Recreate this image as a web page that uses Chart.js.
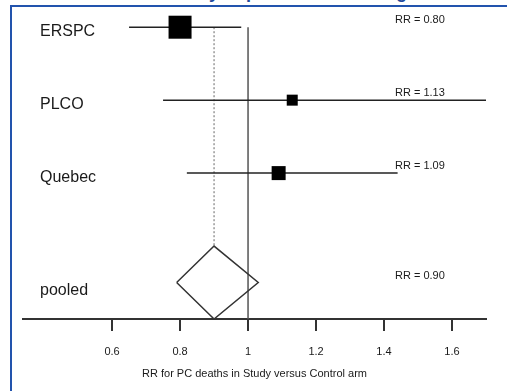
<!DOCTYPE html>
<html>
<head>
<meta charset="utf-8">
<script src="https://cdn.jsdelivr.net/npm/chart.js@4/dist/chart.umd.min.js"></script>
<style>
  html, body { margin: 0; padding: 0; background: #fff; }
  #wrap { position: relative; width: 507px; height: 391px; overflow: hidden; }
  #title { position: absolute; left: 150px; top: -17px; font: bold 18px "Liberation Sans", Arial, sans-serif;
           line-height: 18px; color: #1f4a9c; white-space: nowrap; }
  #frameTop { position: absolute; left: 10px; top: 5px; width: 497px; height: 2px; background: #2253ad; }
  #frameLeft { position: absolute; left: 10px; top: 5px; width: 2px; height: 386px; background: #2253ad; }
  canvas { position: absolute; left: 0; top: 0; }
</style>
</head>
<body>
<div id="wrap">
  <div id="title">Efficacy of prostate screening</div>
  <canvas id="forest" width="507" height="391"></canvas>
  <div id="frameTop"></div>
  <div id="frameLeft"></div>
</div>
<script>
// Study data (relative risk of PC death, with 95% CI)
var studies = ['ERSPC', 'PLCO', 'Quebec'];
var rr = [0.80, 1.13, 1.09];
var ciLow = [0.65, 0.75, 0.82];
var ciHigh = [0.98, 1.70, 1.44];

// Pooled estimate
var pooledLabel = 'pooled';
var pooledRR = 0.90;
var pooledLow = 0.79;
var pooledHigh = 1.03;

var xTicks = [0.6, 0.8, 1, 1.2, 1.4, 1.6];
var xTitle = 'RR for PC deaths in Study versus Control arm';

// box side in px, roughly by study weight (style only)
var boxSide = [23, 11, 14];

var ink = '#1a1a1a';
var font = '"Liberation Sans", Arial, sans-serif';

// row positions: first study on top, pooled row at the bottom
function rowOf(i) { return studies.length + 1 - i; }
var pooledRow = 0.5;
var topRow = rowOf(0);

var datasets = [];

// CI whiskers
studies.forEach(function(name, i) {
  datasets.push({
    label: name + ' CI',
    data: [{x: ciLow[i], y: rowOf(i)}, {x: ciHigh[i], y: rowOf(i)}],
    showLine: true, borderColor: '#222', borderWidth: 1.5, pointRadius: 0, order: 2
  });
});

// boxes
datasets.push({
  label: 'RR',
  data: studies.map(function(s, i) { return {x: rr[i], y: rowOf(i)}; }),
  pointStyle: 'rect',
  pointRadius: boxSide.map(function(s) { return s / 2 / Math.SQRT1_2; }),
  pointHoverRadius: boxSide.map(function(s) { return s / 2 / Math.SQRT1_2; }),
  backgroundColor: '#000', borderColor: '#000', borderWidth: 0,
  showLine: false, order: 0
});

// pooled diamond
datasets.push({
  label: 'pooled',
  data: [
    {x: pooledLow, y: pooledRow},
    {x: pooledRR, y: pooledRow + 0.5},
    {x: pooledHigh, y: pooledRow},
    {x: pooledRR, y: pooledRow - 0.5},
    {x: pooledLow, y: pooledRow}
  ],
  showLine: true, borderColor: '#333', borderWidth: 1.5, borderJoinStyle: 'miter',
  pointRadius: 0, fill: false, order: 1
});

// line of no effect
datasets.push({
  label: 'no effect',
  data: [{x: 1, y: topRow}, {x: 1, y: 0}],
  showLine: true, borderColor: '#555', borderWidth: 1.5, pointRadius: 0, order: 3
});

// dotted line at pooled estimate
datasets.push({
  label: 'pooled ref',
  data: [{x: pooledRR, y: topRow}, {x: pooledRR, y: pooledRow + 0.5}],
  showLine: true, borderColor: '#666', borderWidth: 1, borderDash: [2, 2], pointRadius: 0, order: 3
});

// study names and RR labels
var labelPlugin = {
  id: 'forestLabels',
  afterDatasetsDraw: function(chart) {
    var ctx = chart.ctx;
    var y = chart.scales.y;
    var names = studies.concat([pooledLabel]);
    var rows = studies.map(function(s, i) { return rowOf(i); }).concat([pooledRow]);
    var vals = rr.concat([pooledRR]);
    ctx.save();
    ctx.fillStyle = ink;
    names.forEach(function(n, i) {
      var py = y.getPixelForValue(rows[i]);
      var nameDrop = i < studies.length ? 9 : 12;
      ctx.font = '16px ' + font;
      ctx.textAlign = 'left';
      ctx.textBaseline = 'alphabetic';
      ctx.fillText(n, 40, py + nameDrop);
      ctx.font = '11px ' + font;
      ctx.fillText('RR = ' + vals[i].toFixed(2), 395, py - 4);
    });
    ctx.restore();
  }
};

new Chart(document.getElementById('forest'), {
  type: 'scatter',
  data: {datasets: datasets},
  options: {
    responsive: false,
    devicePixelRatio: 1,
    animation: false,
    layout: {padding: {left: 23, right: 21, top: 5, bottom: 0}},
    plugins: {legend: {display: false}, tooltip: {enabled: false}},
    elements: {line: {tension: 0}},
    datasets: {scatter: {clip: false}},
    scales: {
      x: {
        type: 'linear',
        min: 0.338, max: 1.70,
        afterBuildTicks: function(axis) {
          axis.ticks = xTicks.map(function(v) { return {value: v}; });
        },
        afterFit: function(axis) { axis.height = 72; },
        border: {display: true, color: '#333', width: 2},
        grid: {display: true, drawOnChartArea: false, drawTicks: true, tickLength: 12, color: '#333', lineWidth: 2},
        ticks: {
          padding: 14, color: ink, font: {family: font, size: 11},
          autoSkip: false, maxRotation: 0,
          callback: function(v) { return String(v); }
        },
        title: {display: true, text: xTitle, color: ink, font: {family: font, size: 11}, padding: {top: 0, bottom: 10}}
      },
      y: {
        type: 'linear', display: false, min: 0, max: 4.15
      }
    }
  },
  plugins: [labelPlugin]
});
</script>
</body>
</html>
